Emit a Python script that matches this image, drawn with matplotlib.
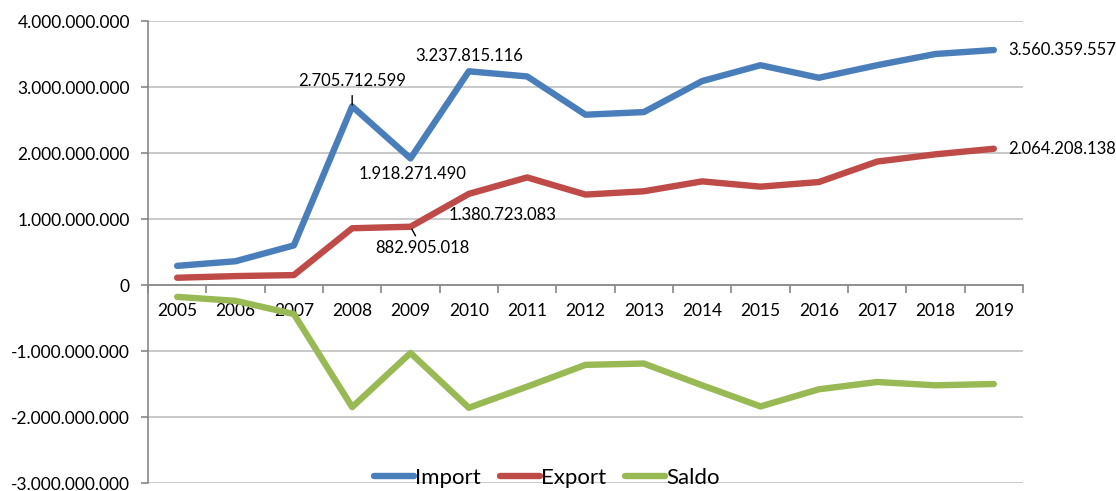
import matplotlib
matplotlib.use("Agg")
import matplotlib.pyplot as plt
from matplotlib.ticker import FixedLocator, FuncFormatter

years = ["2005", "2006", "2007", "2008", "2009", "2010", "2011", "2012",
         "2013", "2014", "2015", "2016", "2017", "2018", "2019"]
import_vals = [0.29e9, 0.36e9, 0.60e9, 2705712599, 1918271490, 3237815116, 3.16e9,
               2.58e9, 2.62e9, 3.09e9, 3.33e9, 3.14e9, 3.33e9, 3.50e9, 3560359557]
export_vals = [0.11e9, 0.135e9, 0.15e9, 0.86e9, 882905018, 1380723083, 1.63e9,
               1.37e9, 1.42e9, 1.57e9, 1.49e9, 1.56e9, 1.87e9, 1.98e9, 2064208138]
saldo_vals = [-0.18e9, -0.24e9, -0.44e9, -1.85e9, -1.03e9, -1.86e9, -1.54e9,
              -1.21e9, -1.19e9, -1.52e9, -1.84e9, -1.58e9, -1.47e9, -1.52e9, -1.50e9]
series_names = ["Import", "Export", "Saldo"]
colors = ["#4A7EBB", "#BE4B48", "#98B954"]
y_ticks = [-3e9, -2e9, -1e9, 0, 1e9, 2e9, 3e9, 4e9]

plt.rcParams['font.family'] = ['Lato', 'DejaVu Sans']

fig = plt.figure(figsize=(11.16, 4.91), dpi=100)
ax = fig.add_axes([148/1116, 1-483/491, (1023-148)/1116, (483-21)/491])

x = list(range(len(years)))
lines = []
for vals, name, c in zip([import_vals, export_vals, saldo_vals], series_names, colors):
    ln, = ax.plot(x, vals, color=c, lw=4.6, solid_capstyle='round',
                  solid_joinstyle='round', label=name, zorder=3)
    lines.append(ln)

ax.set_xlim(-0.5, len(years) - 0.5)
ax.set_ylim(-3e9, 4e9)

def fmt(v, pos=None):
    s = f"{abs(int(round(v))):,}".replace(",", ".")
    return ("-" if v < 0 else "") + s

ax.yaxis.set_major_locator(FixedLocator(y_ticks))
ax.yaxis.set_major_formatter(FuncFormatter(fmt))
ax.grid(axis='y', color='#C0C0C0', lw=1.2, zorder=0)
ax.tick_params(axis='y', labelsize=12.5, length=5, color='#868686', width=1.2, pad=8,
               labelcolor='#000000')

# category axis at zero
ax.spines['bottom'].set_position(('data', 0))
ax.spines['bottom'].set_color('#868686')
ax.spines['bottom'].set_linewidth(1.2)
ax.spines['left'].set_color('#868686')
ax.spines['left'].set_linewidth(1.2)
ax.spines['top'].set_visible(False)
ax.spines['right'].set_visible(False)
ax.set_xticks(x)
ax.set_xticklabels(years)
ax.set_xticks([i + 0.5 for i in range(-1, len(years))], minor=True)
ax.tick_params(axis='x', which='major', length=0, labelsize=12.5, pad=13)
ax.tick_params(axis='x', which='minor', length=6, color='#868686', width=1.2)

# data labels
lab_kw = dict(fontsize=12, color='#000000', zorder=5)
ax.annotate(fmt(import_vals[3]), xy=(3, import_vals[3]), xytext=(3, import_vals[3] + 0.39e9),
            ha='center', va='center', arrowprops=dict(arrowstyle='-', lw=1, color='black',
            shrinkA=3, shrinkB=1), **lab_kw)
ax.text(5, import_vals[5] + 0.23e9, fmt(import_vals[5]), ha='center', va='center', **lab_kw)
ax.text(4.03, import_vals[4] - 0.24e9, fmt(import_vals[4]), ha='center', va='center', **lab_kw)
ax.text(5.57, export_vals[5] - 0.32e9, fmt(export_vals[5]), ha='center', va='center', **lab_kw)
ax.annotate(fmt(export_vals[4]), xy=(4, export_vals[4]), xytext=(4.2, export_vals[4] - 0.32e9),
            ha='center', va='center', arrowprops=dict(arrowstyle='-', lw=1, color='black',
            shrinkA=1, shrinkB=2), **lab_kw)
ax.text(14.24, import_vals[14], fmt(import_vals[14]), ha='left', va='center', **lab_kw)
ax.text(14.24, export_vals[14], fmt(export_vals[14]), ha='left', va='center', **lab_kw)

leg = fig.legend(handles=lines, loc='center', bbox_to_anchor=(547/1116, 1-478/491),
                 ncol=3, frameon=False, fontsize=16, handlelength=1.8, handletextpad=0.05,
                 columnspacing=0.85, borderaxespad=0)

fig.savefig("out.png", dpi=100)
